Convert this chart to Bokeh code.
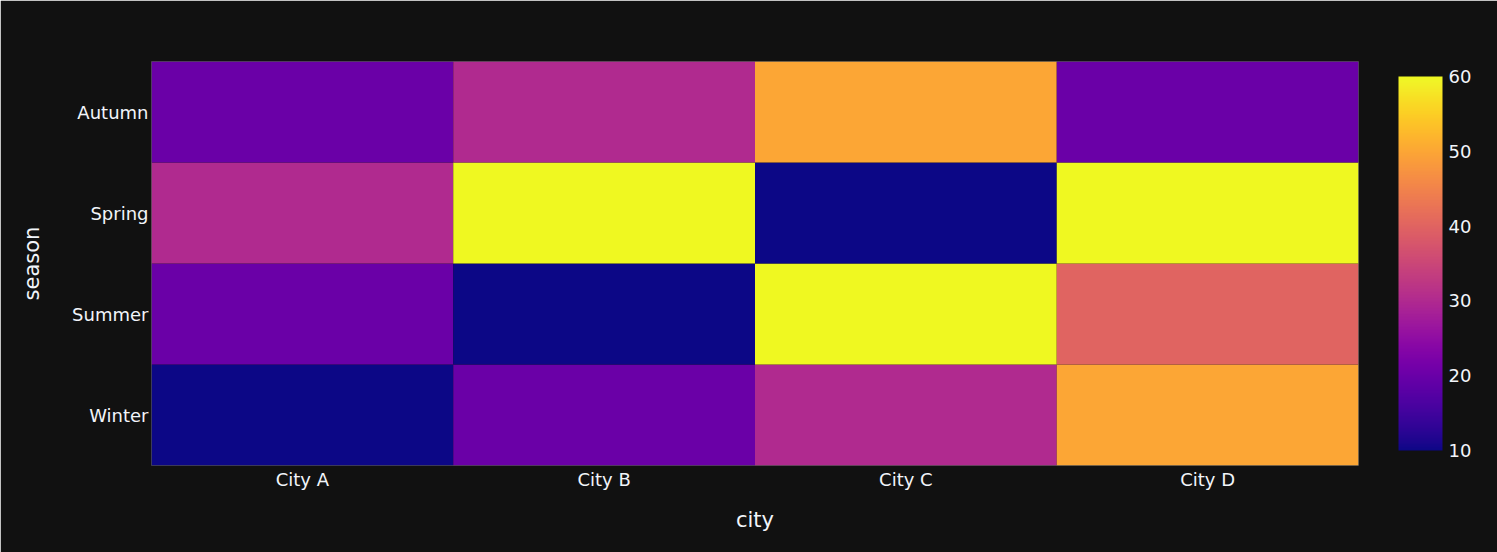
from bokeh.plotting import figure
from bokeh.models import ColumnDataSource, LinearColorMapper, ColorBar, FactorRange, FixedTicker
from bokeh.palettes import Plasma256
from bokeh.embed import file_html
from bokeh.resources import INLINE

cities = ["City A", "City B", "City C", "City D"]
seasons = ["Winter", "Summer", "Spring", "Autumn"]  # bottom to top
values = {
    "Autumn": [20, 30, 50, 20],
    "Spring": [30, 60, 10, 60],
    "Summer": [20, 10, 60, 40],
    "Winter": [10, 20, 30, 50],
}
cbar_ticks = [10, 20, 30, 40, 50, 60]

xs, ys, vs = [], [], []
for s in seasons:
    for c, v in zip(cities, values[s]):
        xs.append(c)
        ys.append(s)
        vs.append(v)
src = ColumnDataSource(dict(city=xs, season=ys, val=vs))

FONT = "DejaVu Sans"
TXT = "#f2f5fa"
BG = "#111111"

p = figure(width=1497, height=552, x_range=FactorRange(*cities), y_range=FactorRange(*seasons),
           output_backend="svg", toolbar_location=None,
           min_border_left=151, min_border_right=139, min_border_top=61, min_border_bottom=87)
p.background_fill_color = BG
p.border_fill_color = BG
p.outline_line_color = None
p.grid.visible = False
p.x_range.range_padding = 0
p.y_range.range_padding = 0

mapper = LinearColorMapper(palette=Plasma256, low=10, high=60)
p.rect(x="city", y="season", width=1, height=1, source=src,
       fill_color={"field": "val", "transform": mapper}, line_color=None)

for ax in (p.xaxis[0], p.yaxis[0]):
    ax.axis_line_color = None
    ax.major_tick_line_color = None
    ax.minor_tick_line_color = None
    ax.major_tick_out = 0
    ax.major_tick_in = 0
    ax.major_label_text_font = FONT
    ax.major_label_text_font_size = "18px"
    ax.major_label_text_color = TXT
    ax.axis_label_text_font = FONT
    ax.axis_label_text_font_size = "21px"
    ax.axis_label_text_font_style = "normal"
    ax.axis_label_text_color = TXT

p.xaxis.axis_label = "city"
p.yaxis.axis_label = "season"
p.xaxis.major_label_standoff = 3
p.xaxis.axis_label_standoff = 15
p.yaxis.major_label_standoff = 3
p.yaxis.axis_label_standoff = 25

cb = ColorBar(color_mapper=mapper, width=44, height=374, location=(1247, 15),
              margin=0, padding=0, ticker=FixedTicker(ticks=cbar_ticks),
              major_tick_line_color=None, minor_tick_line_color=None,
              bar_line_color=None, border_line_color=None, background_fill_color=None,
              background_fill_alpha=0,
              major_label_text_font=FONT, major_label_text_font_size="18px",
              major_label_text_color=TXT, label_standoff=6)
p.add_layout(cb, "center")

open("out.html", "w").write(file_html(p, INLINE))
